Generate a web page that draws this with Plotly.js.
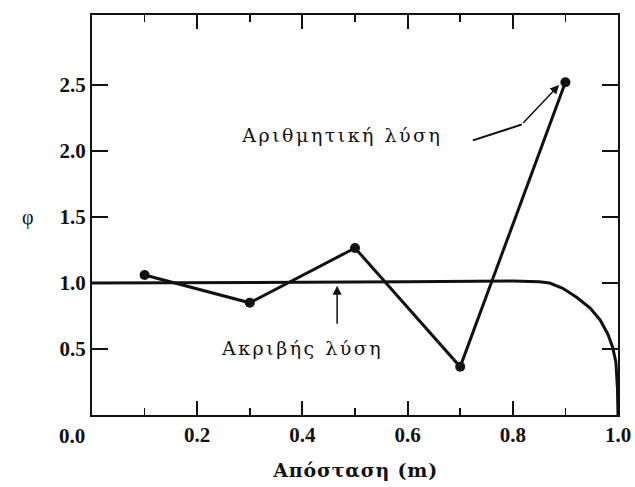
<!DOCTYPE html>
<html>
<head>
<meta charset="utf-8">
<script src="https://cdn.plot.ly/plotly-3.0.1.min.js"></script>
<style>
html,body{margin:0;padding:0;background:#fff}
.annotation[data-index="1"] text, .annotation[data-index="3"] text { letter-spacing: 2.5px; }
.annotation[data-index="6"] text { letter-spacing: 0.8px; }
</style>
</head>
<body>
<div id="chart" style="width:635px;height:487px"></div>
<script>
// Numerical solution (Αριθμητική λύση)
const numX = [0.1, 0.3, 0.5, 0.7, 0.9];
const numY = [1.06, 0.85, 1.265, 0.365, 2.52];
// Exact solution (Ακριβής λύση)
const exactX = [0.0, 0.2, 0.4, 0.6, 0.8, 0.85, 0.87, 0.895, 0.922, 0.947, 0.966, 0.981, 0.990, 0.996, 0.999, 1.0];
const exactY = [1.0, 1.0, 1.005, 1.01, 1.015, 1.01, 1.0, 0.96, 0.89, 0.81, 0.72, 0.61, 0.51, 0.40, 0.20, 0.0];
// Tick labels
const xTicks = [0.2, 0.4, 0.6, 0.8, 1.0];
const xTickText = ['0.2', '0.4', '0.6', '0.8', '1.0'];
const xMinorTicks = [0.1, 0.3, 0.5, 0.7, 0.9];
const yTicks = [0.5, 1.0, 1.5, 2.0, 2.5];
const yTickText = ['0.5', '1.0', '1.5', '2.0', '2.5'];

const serif = 'Liberation Serif, Times New Roman, serif';
const wide = 'DejaVu Serif, Liberation Serif, serif';
const ink = '#111';

const W = 635, H = 487;
const M = {l: 92, r: 17, t: 15, b: 72};
const xRange = [0, 1.0], yRange = [0, 3.03];

const traces = [
  {x: exactX, y: exactY, mode: 'lines', line: {color: ink, width: 3}, hoverinfo: 'skip'},
  {x: numX, y: numY, mode: 'lines+markers', line: {color: ink, width: 3}, marker: {color: ink, size: 10}}
];

const layout = {
  width: W, height: H,
  margin: M,
  paper_bgcolor: '#fff', plot_bgcolor: '#fff',
  showlegend: false,
  font: {family: serif, color: ink, size: 18},
  xaxis: {
    range: xRange, tickmode: 'array', tickvals: xTicks, ticktext: xTickText,
    ticks: 'inside', ticklen: 14, tickwidth: 2, tickcolor: ink,
    showline: true, linecolor: ink, linewidth: 2, mirror: 'allticks',
    showgrid: false, zeroline: false,
    tickfont: {family: serif, size: 21, weight: 'bold', color: ink},
    minor: {tickmode: 'array', tickvals: xMinorTicks, ticks: 'inside', ticklen: 7, tickwidth: 1.5, tickcolor: ink, showgrid: false}
  },
  yaxis: {
    range: yRange, tickmode: 'array', tickvals: yTicks, ticktext: yTickText,
    ticks: 'inside', ticklen: 16, tickwidth: 2, tickcolor: ink,
    showline: true, linecolor: ink, linewidth: 2, mirror: 'allticks',
    showgrid: false, zeroline: false,
    tickfont: {family: serif, size: 21, weight: 'bold', color: ink}
  },
  shapes: [
    {type: 'line', xref: 'x', yref: 'y', x0: 0.724, y0: 2.08, x1: 0.817, y1: 2.2, line: {color: ink, width: 2}}
  ],
  annotations: [
    {x: 0, y: 0, xref: 'x', yref: 'y', text: '0.0', showarrow: false, xshift: -20, yshift: -21,
     font: {family: serif, size: 21, weight: 'bold', color: ink}},
    {x: 0.475, y: 2.12, xref: 'x', yref: 'y', text: 'Αριθμητική λύση', showarrow: false,
     font: {family: wide, size: 19, color: ink}},
    {x: 0.888, y: 2.5, ax: 0.817, ay: 2.2, xref: 'x', yref: 'y', axref: 'x', ayref: 'y', text: '',
     showarrow: true, arrowhead: 2, arrowsize: 1.2, arrowwidth: 1.5, arrowcolor: ink},
    {x: 0.40, y: 0.51, xref: 'x', yref: 'y', text: 'Ακριβής λύση', showarrow: false,
     font: {family: wide, size: 19, color: ink}},
    {x: 0.466, y: 0.98, ax: 0.466, ay: 0.68, xref: 'x', yref: 'y', axref: 'x', ayref: 'y', text: '',
     showarrow: true, arrowhead: 2, arrowsize: 1.2, arrowwidth: 1.5, arrowcolor: ink},
    {x: (20 - 92) / 526, y: (415 - 217) / 400, xref: 'paper', yref: 'paper', text: 'φ', showarrow: false,
     font: {family: serif, size: 20, color: ink}},
    {x: 0.5, y: (415 - 470) / 400, xref: 'paper', yref: 'paper', text: 'Απόσταση (m)', showarrow: false, yanchor: 'middle',
     font: {family: wide, size: 19, weight: 'bold', color: ink}}
  ]
};

Plotly.newPlot('chart', traces, layout, {displayModeBar: false, staticPlot: true});
</script>
</body>
</html>
